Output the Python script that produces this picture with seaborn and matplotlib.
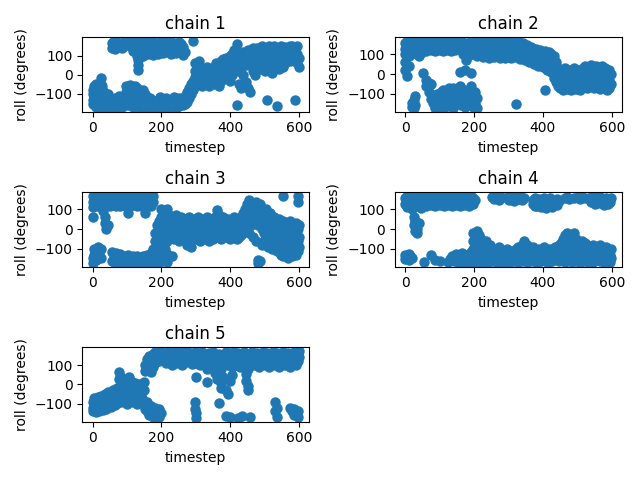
import matplotlib
matplotlib.use("Agg")
import matplotlib.pyplot as plt
import seaborn as sns
import pandas as pd

# timestep -> roll values (degrees)
chain1 = {
    0: [-100, -130, -80, -150], 5: [-60, -120, -150], 10: [-50, -90, -140, -170],
    15: [-70, -110, -160], 20: [-80, -130, -175], 24: [-15, -50], 28: [-60, -100, -150],
    33: [-90, -140, -175], 38: [-120, -160], 44: [-100, -140, -175], 50: [-130, -165],
    55: [-150, -175, 165, 140], 60: [-150, -170, 150, 170], 66: [-120, -160, 160, 135],
    72: [-140, -175, 170, 145], 78: [-110, -150, 155], 84: [-130, -170, 165, 140],
    90: [-115, -160, 170], 97: [-90, -60, -140, 160], 103: [-70, -120, -160, 168],
    110: [-55, -100, -150, 150, 170], 117: [-80, -130, -170, 160, 125],
    124: [-60, -110, -160, 140, 170], 130: [-70, -120, 100, 170], 133: [75, 50, 25],
    137: [-90, -140, -175, 120, 160], 145: [-80, -120, -165, 100, 145, 170],
    152: [-100, -150, 130, 165], 160: [-130, -175, 110, 150, 175], 167: [-120, -160, 120, 160],
    175: [-140, -175, 105, 140, 172], 182: [-150, 125, 165], 190: [-130, -170, 110, 150],
    197: [-115, -155, 135, 170], 205: [-140, -175, 115, 155], 212: [-120, -160, 140, 175],
    220: [-150, -175, 120, 160], 228: [-130, 110, 150, 170], 235: [-115, -160, 130, 165],
    243: [-140, -175, 115, 155], 250: [-120, -165, 140, 172], 257: [-150, 125, 160],
    263: [-160, -130, 105, 145], 268: [-110, -150, 120], 274: [-90, -140], 280: [-70, -120],
    286: [-50, -100], 292: [-30, -80, 178], 298: [-10, -60, 20, 60], 303: [10, -40, 40, -20],
    310: [70, 10, -40], 317: [30, -10, -60], 324: [0, -50], 331: [40, -30], 338: [20, -60],
    345: [-20, 10], 352: [0, -50, 40], 359: [30, -30, 60], 366: [50, 0, -60],
    373: [40, 70, -30], 380: [80, 20, 50, -10], 387: [60, 90, 0], 394: [40, 80, -10],
    400: [70, 100, -30], 406: [110, 50, 0], 412: [80, 130, 20], 418: [160, -160, 60, 110],
    425: [20, -50, 90], 432: [90, 40, -70], 438: [70, 120, 0], 445: [50, 100, -40],
    452: [80, 130, -70], 458: [60, 110, -90], 465: [90, 140, 20], 472: [70, 120, 0],
    478: [50, 100, 140], 485: [80, 130, 30], 492: [60, 110, 150], 500: [90, 140, 20],
    507: [70, 120, -130], 513: [100, 150, 40], 520: [80, 130, 10], 527: [60, 110, 150],
    535: [90, 140, -165], 540: [70, 120, 30], 547: [100, 150], 553: [80, 130, 40],
    560: [60, 110, 145], 567: [90, 140], 573: [70, 120, 150], 580: [100, 150],
    587: [80, 130, -130], 593: [60, 110, 150], 599: [90, 40],
}

chain2 = {
    0: [160, 130, 100, 60, 20], 5: [170, 140, 110, -10], 10: [150, 120, 90, 40],
    15: [165, 135, 100], 20: [155, 125, -150, -170], 25: [170, 140, 110, -130, -175],
    30: [150, 120, -110, -160], 35: [165, 135, 100], 40: [155, 120, 90], 46: [170, 140, 105],
    51: [150, 115, 3], 56: [165, 130], 62: [155, 120, -30, -60], 68: [170, 140, -45, -90],
    74: [150, 125, -125, -50], 80: [165, 135, -150], 86: [155, 120, -175],
    92: [170, 140, -100, -160], 98: [150, 125, -120, -170], 104: [165, 135, -90, -150],
    110: [155, 120, -80, -140], 116: [170, 140, -110, -170], 122: [150, 125, -100, -160],
    128: [165, 135, -70, -130], 134: [155, 120, -90, -150], 140: [170, 140, -70, -175],
    146: [150, 125, -100], 152: [-80, -140, 165], 158: [-60, -120, 12, 155],
    163: [-70, -160, 170, 140], 168: [-90, -130, 130, 100], 173: [-110, -170, 160, 110, 20],
    178: [-120, -160, 70, 120], 183: [-80, -140, 150, 90], 190: [-60, -100, 170, 130, 5],
    196: [-130, -170, 140, 100], 202: [-150, -90, 160, 120], 208: [-120, -175, 170, 130, 90],
    214: [150, 110], 220: [165, 130, 95], 226: [155, 120, 85], 232: [170, 140, 100],
    238: [160, 125, 90], 245: [150, 115, 80], 252: [165, 135, 95], 258: [155, 120, 85],
    264: [170, 140, 100], 270: [160, 125, 90], 277: [150, 115, 80], 283: [165, 130, 95],
    290: [155, 120, 80], 296: [170, 140, 100], 302: [160, 125, 85], 308: [150, 115, 80],
    315: [165, 130, 95], 322: [155, 120, 85, -154], 328: [170, 140, 100], 335: [150, 115, 75],
    341: [160, 125, 90], 347: [145, 110, 70], 354: [150, 120, 80], 360: [135, 100, 60],
    367: [140, 105, 70], 373: [125, 90, 50], 380: [130, 95, 60], 386: [120, 85, 40],
    392: [125, 90, 50], 399: [110, 75, 35], 406: [120, 80, -82], 412: [100, 60, 20],
    418: [110, 70, 30], 425: [100, 50, 10], 432: [90, 40, -20], 438: [60, 10, -40],
    445: [30, -20, -60], 451: [20, -30, -70], 458: [10, -40, -80], 464: [30, -20, -60],
    470: [0, -50, -75], 477: [20, -30, -70], 483: [10, -40, -80], 490: [30, -20, -60],
    496: [0, -50, -75], 503: [20, -30, -70], 509: [10, -40, -80], 516: [30, -20, -60],
    522: [40, 0, -50], 528: [20, -30, -70], 535: [30, -10, -60], 541: [45, 0, -50],
    548: [20, -30, -70], 554: [40, -10, -60], 560: [35, -20, -55], 567: [20, -30, -75],
    573: [40, -10, -60], 580: [30, -20, -65], 586: [15, -40, -80], 592: [20, -30, -70],
    599: [0, -50],
}

chain3 = {
    0: [170, 140, 110, 63, -150, -175], 5: [160, 125, -130, -100], 10: [170, 140, -110, -160],
    15: [150, 115, -90, -140], 20: [165, 130, -120], 25: [155, 120, -100, -150],
    30: [170, 140, 90], 35: [160, 125, 60, 30], 40: [150, 115, 0], 45: [165, 135, 20],
    50: [155, 120], 56: [170, 140, -115, -165], 62: [160, 125, -130, -170],
    68: [150, 115, -120, -175], 74: [165, 135, -140], 80: [155, 120, -125, -165],
    86: [170, 140, -150, -175], 92: [160, 125, -135, -170], 98: [150, 115, -145],
    104: [165, 135, 80, -130, -170], 110: [155, 120, -150, -175], 116: [170, 140, -140, -165],
    122: [160, 125, -155], 128: [150, 115, -135, -175], 134: [165, 135, -150],
    140: [155, 120, -160, -175], 146: [170, 140, -140], 152: [160, 125, 80, -150, -170],
    158: [150, 115, -130, -165], 164: [165, 135, -145, -175], 170: [155, 120, -120, -160],
    176: [170, 140, -100], 182: [-60, -20, -140, -170], 187: [-40, 20, -120],
    193: [-80, 0, 40, -130, -175], 199: [60, 100, -30, -150], 205: [90, 50, -10, -120, -160],
    211: [80, 30, -40, -100, -140], 217: [100, 60, 10, -60, -125, -170], 223: [70, 20, -30],
    230: [60, 10, -40, -140], 236: [50, 0, -50], 243: [70, 20, -30], 250: [40, -10, -60],
    256: [60, 10, -40], 262: [50, 0, -50], 268: [30, -20, -60], 275: [40, -10, -80],
    281: [60, 10, -40], 287: [30, -20, -90], 294: [50, 0, -40], 300: [40, -10, -50],
    306: [60, 10, -30], 313: [30, -20, -60], 319: [50, 0, -40], 325: [40, -10, -50],
    331: [60, 20, -30], 337: [30, -10, -60], 343: [50, 0, -40], 350: [40, 10, -50],
    356: [60, 20, -30], 362: [95, 50, 0], 368: [70, 30, -20], 374: [40, 0, -50],
    380: [60, 20, -30], 387: [40, 0, -40], 393: [50, 10, -40], 399: [30, -10, -50],
    405: [40, 0, -30], 411: [60, 20, -20], 418: [30, -10, -50], 424: [50, 10, -40],
    430: [60, 20, -30], 437: [80, 40, 0], 443: [100, 60, 20], 449: [130, 90, 50, 10],
    455: [150, 110, 70, -20], 461: [140, 100, 60, 20], 467: [130, 80, 30, -40],
    473: [140, 90, 50, -60], 479: [110, 60, 20, -160, -175], 485: [130, 80, 40, -165],
    491: [100, 50, 0, -80], 498: [80, 40, -20, -60], 504: [100, 60, 10, -40],
    510: [60, 20, -30, -90], 516: [80, 30, -20, -70], 522: [40, 0, -50, -100],
    528: [60, 20, -40, -80], 535: [30, -10, -60, -110], 541: [50, 0, -50, -100],
    547: [20, -30, -80, -133], 554: [166, 40, -10, -60, -140], 560: [30, -20, -70, -120],
    566: [10, -40, -90, -150], 572: [40, -10, -60, -110], 578: [20, -30, -80, -140],
    584: [0, -50, -100], 590: [30, -20, -70, -130], 595: [166, 140, 0, -60, -110],
    599: [20, -40, -90],
}

chain4 = {
    0: [160, 130, -130, -155], 5: [170, 140, 110, -145], 10: [150, 120, -125, -160],
    15: [165, 135, -140], 20: [155, 125, 100, -150], 25: [170, 140, 60, 20],
    30: [150, 115, 40, -10], 35: [165, 130, -20, 0], 40: [155, 120, 30], 45: [170, 140, 105],
    51: [150, 125], 56: [165, 135, -168], 62: [155, 120], 68: [170, 140], 75: [150, 125, -133],
    81: [165, 135], 87: [155, 120, -160], 93: [170, 140], 100: [150, 125, -165],
    106: [165, 135], 112: [155, 120], 118: [170, 140], 124: [150, 125, -170],
    130: [165, 135, -155], 136: [155, 120, -135], 142: [170, 140, -165],
    148: [150, 125, -125, -150], 154: [165, 135, -170], 160: [155, 120, -140],
    166: [170, 140, -120, -160], 172: [150, 125, -175], 178: [165, 135, -130, -155],
    185: [155, 120, -140, -170], 191: [170, 140, -115, -160], 197: [160, 130, -60, -20, -100, -150],
    203: [150, -40, -80, -130, -170], 209: [-10, -60, -110, -160], 215: [-30, -90, -140],
    221: [-50, -100, -150, -175], 228: [-70, -120, -165], 234: [-60, -110, -160],
    240: [-90, -130, -175], 247: [-80, -120, -160], 253: [-100, -150, 165],
    259: [-110, -160, 155, 170], 265: [-120, -170, 160], 272: [-90, -140, 150, 170],
    278: [-130, -175, 165], 284: [-110, -150], 290: [-120, -165], 297: [-100, -140, 160],
    303: [-130, -175, 170, 150], 309: [-110, -150, 160], 315: [-120, -165, 145],
    322: [-100, -140, 165], 328: [-90, -130, -170, 155], 334: [-110, -150, 170],
    340: [-80, -120, -165, 150], 346: [-60, -100, -145, 160], 353: [-80, -130, -170],
    359: [-100, -150], 365: [-120, -165], 371: [-90, -135, 150, 130], 378: [-110, -155, 160, 115],
    384: [-130, -175, 140, 120], 390: [-100, -145, 155, 125], 396: [-120, -165, 145, 110],
    403: [-90, -140, 160, 130], 409: [-110, -160, 135, 105], 415: [-130, -175, 150, 120],
    421: [-100, -145, 160, 130], 427: [-120, -165, 140, 110], 434: [-90, -135, 150],
    440: [-100, -150, 155, 125], 446: [-80, -120, -165, 145], 452: [-70, -110, -155],
    459: [-50, -90, -140], 465: [-30, -80, -130, -170, 160], 471: [-20, -70, -120, -160, 165],
    477: [-40, -90, -140, 155], 484: [-30, -80, -130, -170], 490: [-20, -60, -110, -155, 160],
    496: [-50, -100, -150], 502: [-60, -110, -160, 165], 509: [-80, -130, -175, 155],
    515: [-60, -100, -150, 165], 521: [-70, -110, -160, 160], 527: [-80, -120, -165],
    534: [-90, -140, -175], 540: [-100, -150, 165, 140], 546: [-80, -130, -170, 155],
    552: [-110, -160, 170, 130], 559: [-90, -140, 150], 565: [-80, -120, -165, 165, 135],
    571: [-100, -150, 155], 577: [-120, -170, 145, 125], 584: [-90, -140, 160],
    590: [-110, -160, 150, 130], 596: [-130, -170, 140], 599: [-100, -150, 160],
}

chain5 = {
    0: [-90, -120, -140], 5: [-70, -110, -135], 10: [-80, -120, -145], 15: [-65, -100, -130],
    20: [-75, -110, -140], 25: [-60, -95, -125], 30: [-70, -105, -135], 35: [-50, -90, -120],
    40: [-60, -95, -130], 46: [-40, -80, -110], 52: [-50, -85, -115], 58: [-30, -70, -100],
    64: [-45, -80, -105], 70: [-20, -60, -95], 76: [63, 30, -30, -70], 82: [40, 0, -50, -90],
    88: [-10, -50, -85], 94: [10, -30, -70], 100: [-20, -60, -100], 106: [38, 0, -40, -80],
    112: [20, -30, -70], 118: [-10, -50, -90], 124: [10, -30, -80], 130: [-20, -60, -100],
    136: [0, -40, -85], 142: [-20, -70], 148: [12, -30], 152: [-100, -130, 70, 100],
    158: [-90, -140, 80, 130], 164: [-120, -160, 100, 150], 170: [-110, -150, 65, 120],
    176: [-130, -170, 90, 160], 182: [-120, -165, 110, 170], 188: [-140, 140, 165],
    194: [-130, -170, 120, 160], 200: [-150, 150, 170], 206: [130, 165], 212: [110, 150],
    218: [140, 170], 224: [120, 160], 230: [100, 145], 236: [130, 170], 242: [110, 155],
    248: [140, 170], 254: [120, 160], 260: [100, 145], 266: [130, 170], 272: [115, 155],
    278: [140, 170], 284: [120, 160], 290: [105, 150], 296: [135, 170, -90, -130],
    301: [38, 110, 160, -150, -176], 307: [125, 165], 313: [100, 150], 319: [130, 170],
    325: [110, 155], 331: [12, 80, 140], 337: [120, 165], 343: [100, 150], 349: [130, 170],
    355: [110, 155, 60], 361: [90, 140, 30], 367: [120, 160, -96], 373: [80, 130, 10, -20],
    379: [110, 150, 40], 386: [140, 170, -30, -165], 392: [100, 150, -48],
    398: [120, 165, 20, -170], 404: [90, 140, 50], 410: [130, 170], 416: [100, 150],
    422: [120, 165, -175], 428: [90, 140], 434: [110, 160, -165], 440: [130, 170],
    446: [100, 150, 55, 20], 452: [80, 130, -30, -10], 458: [110, 160, -170], 464: [130, 170],
    470: [100, 150], 476: [120, 165], 482: [90, 140], 488: [110, 160], 494: [130, 170],
    500: [100, 150], 506: [120, 165], 512: [90, 140], 518: [110, 160], 524: [130, 170],
    530: [100, 150, -90, -140], 536: [120, 165, -120, -170], 542: [90, 140], 548: [110, 160],
    554: [130, 170], 560: [100, 150], 566: [120, 165], 572: [90, 140, -120],
    578: [110, 160, -140], 584: [130, 170, -130, -160], 590: [100, 150, -150],
    596: [120, 165, -140, -168], 599: [140, 175],
}

chains = [chain1, chain2, chain3, chain4, chain5]
titles = ["chain 1", "chain 2", "chain 3", "chain 4", "chain 5"]

fig, axes = plt.subplots(3, 2, figsize=(6.4, 4.8), dpi=100)
for ax, ch, title in zip(axes.flat, chains, titles):
    df = pd.DataFrame(
        [(t, r) for t, rs in ch.items() for r in rs], columns=["timestep", "roll"]
    )
    sns.scatterplot(data=df, x="timestep", y="roll", ax=ax, color="#1f77b4",
                    s=36, edgecolor="#1f77b4", linewidth=1.5)
    ax.set_title(title)
    ax.set_xlabel("timestep")
    ax.set_ylabel("roll (degrees)")
axes[2, 1].remove()
fig.tight_layout()
fig.savefig("out.png")
